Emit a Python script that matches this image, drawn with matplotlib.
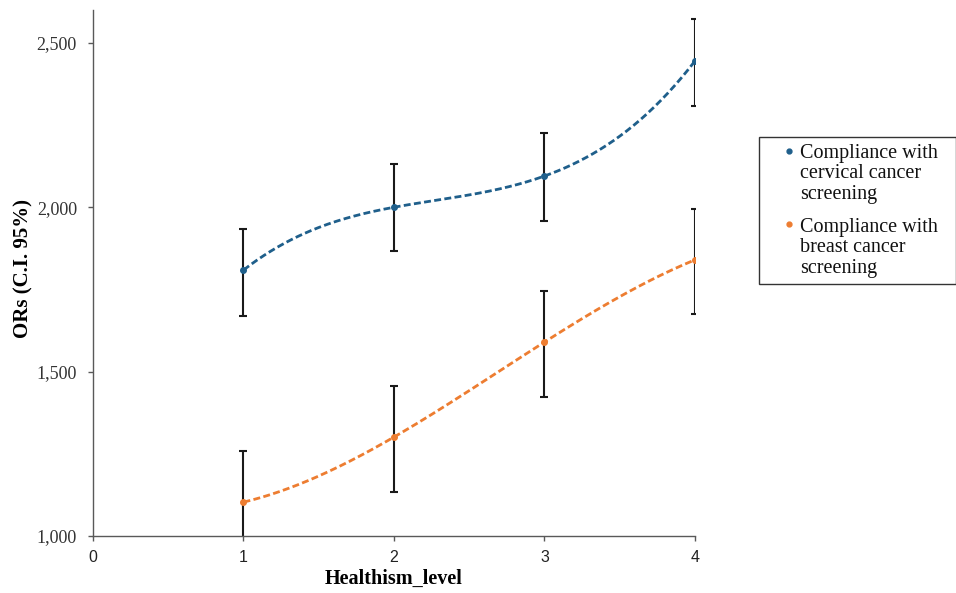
import numpy as np
import matplotlib.pyplot as plt
from matplotlib.lines import Line2D
from matplotlib.patches import Rectangle
from matplotlib.ticker import FuncFormatter

# --- data ---
levels = [1, 2, 3, 4]
cervical = [1.809, 2.000, 2.095, 2.445]
cervical_lo = [1.669, 1.867, 1.958, 2.308]
cervical_hi = [1.934, 2.131, 2.226, 2.573]
breast = [1.103, 1.301, 1.590, 1.840]
breast_lo = [0.945, 1.135, 1.423, 1.675]
breast_hi = [1.259, 1.456, 1.745, 1.995]

label_cervical = "Compliance with\ncervical cancer\nscreening"
label_breast = "Compliance with\nbreast cancer\nscreening"

BLUE = "#1f5f8b"
ORANGE = "#ed7d31"

W, H = 956, 593
fig = plt.figure(figsize=(W / 100, H / 100), dpi=100)
ax = fig.add_axes([93 / W, 1 - 536 / H, 602 / W, 526 / H])

for y, lo, hi, col in [(cervical, cervical_lo, cervical_hi, BLUE),
                       (breast, breast_lo, breast_hi, ORANGE)]:
    y = np.array(y)
    ax.errorbar(levels, y, yerr=[y - np.array(lo), np.array(hi) - y],
                fmt="none", ecolor="#1a1a1a", elinewidth=1.5, capsize=2.6,
                capthick=1.5, zorder=2)
    # 3rd order polynomial trendline through the series (as in the source chart)
    coef = np.polyfit(levels, y, 3)
    xs = np.linspace(levels[0], levels[-1], 200)
    ax.plot(xs, np.polyval(coef, xs), color=col, lw=2.0,
            linestyle=(0, (2.5, 1.2)), zorder=3)
    ax.plot(levels, y, "o", color=col, ms=4, zorder=4)

ax.set_xlim(0, 4)
ax.set_ylim(1.0, 2.6)
ax.set_xticks([0, 1, 2, 3, 4])
ax.set_yticks([1.0, 1.5, 2.0, 2.5])
ax.yaxis.set_major_formatter(FuncFormatter(lambda v, p: f"{v:.3f}".replace(".", ",")))

for s in ["top", "right"]:
    ax.spines[s].set_visible(False)
for s in ["left", "bottom"]:
    ax.spines[s].set_color("#595959")
    ax.spines[s].set_linewidth(1.0)

ax.tick_params(axis="both", direction="out", length=3.6, width=1.0, color="#595959")
ax.tick_params(axis="y", pad=8)
ax.tick_params(axis="x", pad=6.5)
for t in ax.get_yticklabels():
    t.set_fontfamily("Liberation Serif")
    t.set_fontsize(13)
    t.set_color("#333333")
for t in ax.get_xticklabels():
    t.set_fontfamily("Liberation Sans")
    t.set_fontsize(11.5)
    t.set_color("#222222")

ax.set_xlabel("Healthism_level", fontfamily="Liberation Serif", fontweight="bold",
              fontsize=14.5, va="center")
ax.xaxis.set_label_coords(0.5, (536 - 579) / 526)
ax.set_ylabel("ORs (C.I. 95%)", fontfamily="Liberation Serif", fontweight="bold",
              fontsize=15, va="center")
ax.yaxis.set_label_coords((23 - 93) / 602, (536 - 269) / 526)

# legend drawn by hand: marker sits on the first line of each wrapped label
fig.add_artist(Rectangle((759 / W, 1 - 284 / H), 196.5 / W, 147 / H,
                         transform=fig.transFigure, facecolor="white",
                         edgecolor="#333333", lw=1.0))
for lab, col, y_top, y_mid in [(label_cervical, BLUE, 151, 174),
                               (label_breast, ORANGE, 224, 248)]:
    fig.add_artist(Line2D([789 / W], [1 - y_top / H], marker="o", ls="none",
                          color=col, ms=3.5, transform=fig.transFigure))
    fig.text(800 / W, 1 - y_mid / H, lab, ha="left", va="center",
             fontfamily="Liberation Serif", fontsize=14.5, linespacing=1.09,
             color="#111111")

fig.savefig("out.png", dpi=100)
